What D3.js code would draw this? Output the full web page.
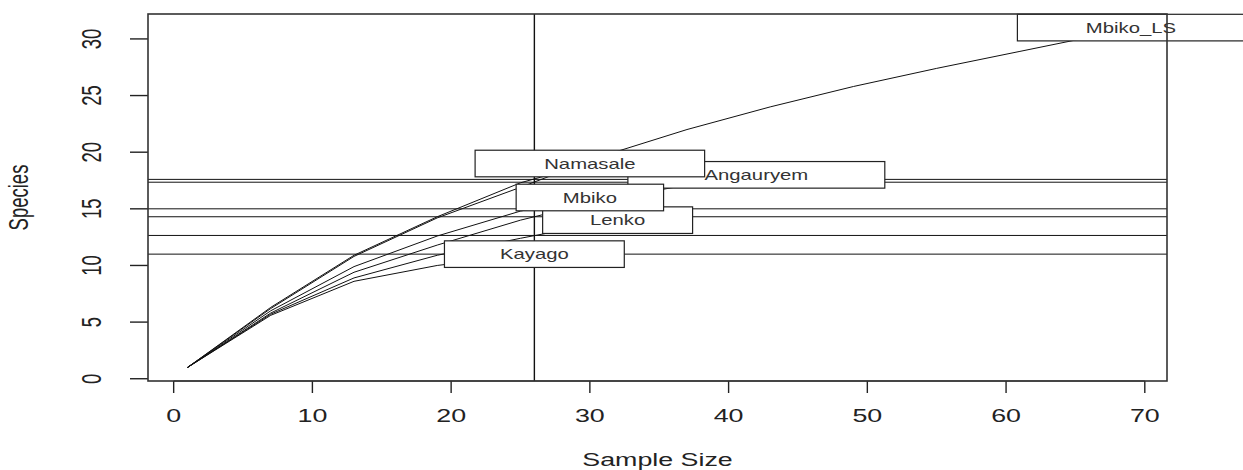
<!DOCTYPE html>
<head>
  <meta charset="utf-8">
  <script src="https://d3js.org/d3.v7.min.js"></script>
  <style type="text/css">
    body { margin:0; background:#fff; }
    svg text { font-family: "Liberation Sans", Arial, sans-serif; fill: #222; }
    .curve { fill: none; stroke: #111; stroke-width: 1; }
    .hline { stroke: #111; stroke-width: 1; }
    .vline { stroke: #111; stroke-width: 1.4; }
    .frame { fill: none; stroke: #333; stroke-width: 1.6; }
    .labelbox { fill: #fff; stroke: #222; stroke-width: 1.2; }
  </style>
</head>

<body>
  <script>

  // site names and rarefaction curves (sample size -> species)
  var sites = ["Angauryem", "Kayago", "Lenko", "Mbiko", "Mbiko_LS", "Namasale"];

  var angauryemX = [1, 7, 13, 19, 25, 31, 37, 42];
  var angauryemY = [1, 5.8, 9.4, 11.8, 14.0, 15.8, 17.1, 18];

  var kayagoX = [1, 7, 13, 19, 25, 26];
  var kayagoY = [1, 5.6, 8.6, 10.0, 10.9, 11];

  var lenkoX = [1, 7, 13, 19, 25, 31, 32];
  var lenkoY = [1, 5.7, 8.9, 10.9, 12.4, 13.8, 14];

  var mbikoX = [1, 7, 13, 19, 25, 30];
  var mbikoY = [1, 6.0, 9.9, 12.6, 14.8, 16];

  var mbikoLsX = [1, 7, 13, 19, 25, 31, 37, 43, 49, 55, 61, 67, 69];
  var mbikoLsY = [1, 6.2, 10.8, 14.2, 16.9, 19.7, 22.0, 24.0, 25.8, 27.4, 28.9, 30.4, 31];

  var namasaleX = [1, 7, 13, 19, 25, 30];
  var namasaleY = [1, 6.3, 10.9, 14.3, 17.3, 19];

  // rarefied species at the chosen sample size
  var sampleSize = 26;
  var rarefied = [17.6, 17.35, 15.0, 14.3, 12.65, 11.0];

  var xTicks = [0, 10, 20, 30, 40, 50, 60, 70];
  var yTicks = [0, 5, 10, 15, 20, 25, 30];

  var curveX = [angauryemX, kayagoX, lenkoX, mbikoX, mbikoLsX, namasaleX];
  var curveY = [angauryemY, kayagoY, lenkoY, mbikoY, mbikoLsY, namasaleY];

  var W = 1243, H = 470;
  var margin = {top: 14, right: 76, bottom: 89, left: 148};
  var width = W - margin.left - margin.right,
      height = H - margin.top - margin.bottom;
  var sx = 1.45; // text in the picture is stretched sideways

  var xScale = d3.scaleLinear().domain([-1.85, 71.6]).range([0, width]);
  var yScale = d3.scaleLinear().domain([-0.2, 32.2]).range([height, 0]);

  var svg = d3.select("body").append("svg")
      .attr("width", W).attr("height", H)
    .append("g")
      .attr("transform", "translate(" + margin.left + "," + margin.top + ")");

  function stretchedText(g, x, y, txt, size, rot) {
    return g.append("text")
      .attr("transform", "translate(" + x + "," + y + ") scale(" + sx + ",1)" + (rot ? " rotate(-90)" : ""))
      .attr("text-anchor", "middle")
      .style("font-size", size + "px")
      .text(txt);
  }

  // x axis
  var xa = svg.append("g");
  xa.append("line")
    .attr("x1", xScale(xTicks[0])).attr("x2", xScale(xTicks[xTicks.length - 1]))
    .attr("y1", height).attr("y2", height).attr("stroke", "#222");
  xTicks.forEach(function(t) {
    xa.append("line")
      .attr("x1", xScale(t)).attr("x2", xScale(t))
      .attr("y1", height).attr("y2", height + 12)
      .attr("stroke", "#222").attr("stroke-width", 1.4);
    stretchedText(xa, xScale(t), height + 41, t, 18.5, false);
  });
  stretchedText(svg, width / 2, height + 85, "Sample Size", 18.5, false);

  // y axis
  var ya = svg.append("g");
  yTicks.forEach(function(t) {
    ya.append("line")
      .attr("x1", -18).attr("x2", 0)
      .attr("y1", yScale(t)).attr("y2", yScale(t))
      .attr("stroke", "#222").attr("stroke-width", 1.4);
    stretchedText(ya, -47, yScale(t), t, 18.5, true);
  });
  stretchedText(svg, -120, height / 2, "Species", 18.5, true);

  // sample size line and rarefied richness
  svg.append("line").attr("class", "vline")
    .attr("x1", xScale(sampleSize)).attr("x2", xScale(sampleSize))
    .attr("y1", 0).attr("y2", height);

  svg.selectAll(".hline")
    .data(rarefied)
    .enter().append("line")
    .attr("class", "hline")
    .attr("x1", 0).attr("x2", width)
    .attr("y1", function(d) { return yScale(d); })
    .attr("y2", function(d) { return yScale(d); });

  var line = d3.line()
    .x(function(d) { return xScale(d[0]); })
    .y(function(d) { return yScale(d[1]); });

  var series = sites.map(function(name, i) {
    return {
      name: name,
      pts: curveX[i].map(function(x, j) { return [x, curveY[i][j]]; })
    };
  });

  svg.selectAll(".curve")
    .data(series)
    .enter().append("path")
    .attr("class", "curve")
    .attr("d", function(d) { return line(d.pts); });

  // labels at curve ends, outer ones drawn first
  var ends = series.map(function(s) {
    var p = s.pts[s.pts.length - 1];
    return {name: s.name, x: p[0], y: p[1]};
  }).sort(function(a, b) { return (b.x * b.x + b.y * b.y) - (a.x * a.x + a.y * a.y); });

  ends.forEach(function(e) {
    var g = svg.append("g");
    var cx = xScale(e.x), cy = yScale(e.y);
    var rect = g.append("rect").attr("class", "labelbox");
    var t = stretchedText(g, cx, cy + 5, e.name, 14, false).style("fill", "#333");
    var w = t.node().getComputedTextLength() * 3.2 + 28;
    var h = 26.6;
    rect.attr("x", cx - w / 2).attr("y", cy - h / 2).attr("width", w).attr("height", h);
  });

  // frame
  svg.append("rect").attr("class", "frame")
    .attr("x", 0).attr("y", 0).attr("width", width).attr("height", height);

  </script>
</body>
